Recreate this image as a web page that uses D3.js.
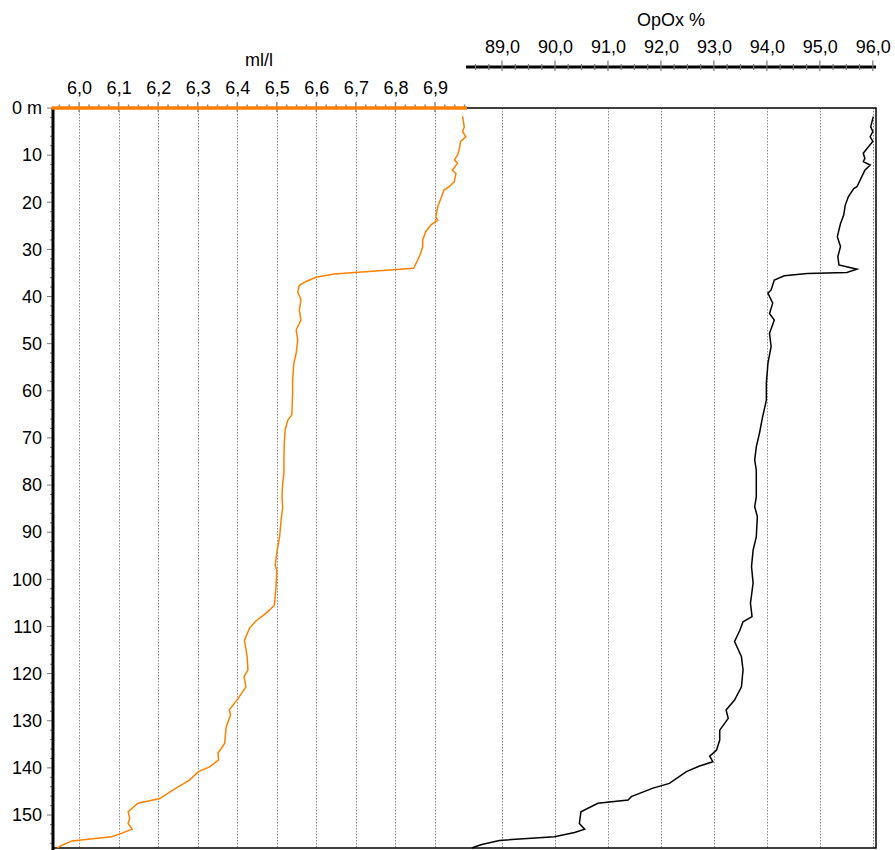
<!DOCTYPE html>
<html>
<head>
<meta charset="utf-8">
<script src="https://cdn.jsdelivr.net/npm/d3@7"></script>
<style>
  body { margin: 0; background: #fff; }
  svg { display: block; font-family: "Liberation Sans", Arial, sans-serif; }
</style>
</head>
<body>
<div id="chart-area"></div>
<script>
// oxygen profile: depth (m) vs ml/l and OpOx %

const o2Depth = [1.8, 4.0, 5.0, 6.1, 7.1, 8.9, 10.0, 11.0, 11.7, 13.2, 13.9, 15.6, 16.7, 17.4, 19.2, 20.9,
  23.1, 23.8, 24.8, 26.2, 28.0, 29.4, 30.8, 32.3, 34.0, 35.2, 35.9, 36.8, 37.6, 39.0, 40.7, 42.9,
  45.0, 47.1, 49.2, 52.0, 54.2, 57.7, 60.5, 65.1, 66.2, 68.3, 71.1, 74.7, 77.5, 79.6, 82.5, 84.6,
  87.4, 91.0, 93.8, 97.0, 98.0, 101.6, 105.5, 106.9, 109.0, 110.4, 112.9, 116.4, 119.2, 120.7,
  122.8, 125.3, 127.7, 128.8, 131.3, 134.8, 136.9, 138.3, 139.8, 140.8, 142.6, 144.7, 146.5,
  147.5, 149.3, 150.7, 151.8, 153.0, 153.9, 154.6, 155.5, 156.3, 157.0]
const o2Values = [6.970, 6.974, 6.970, 6.978, 6.965, 6.961, 6.957, 6.949, 6.957, 6.944, 6.953, 6.949,
  6.936, 6.923, 6.915, 6.907, 6.902, 6.907, 6.890, 6.877, 6.869, 6.869, 6.864, 6.856, 6.846, 6.645,
  6.599, 6.574, 6.557, 6.553, 6.561, 6.557, 6.561, 6.549, 6.553, 6.549, 6.543, 6.540, 6.540, 6.538,
  6.528, 6.521, 6.519, 6.518, 6.518, 6.515, 6.513, 6.515, 6.511, 6.507, 6.501, 6.496, 6.500, 6.498,
  6.494, 6.477, 6.445, 6.431, 6.418, 6.425, 6.427, 6.417, 6.422, 6.402, 6.380, 6.383, 6.372, 6.368,
  6.351, 6.353, 6.330, 6.302, 6.279, 6.237, 6.204, 6.149, 6.124, 6.128, 6.124, 6.134, 6.107, 6.082,
  5.982, 5.960, 5.944]

const opoxDepth = [1.8, 4.0, 5.0, 6.1, 7.1, 8.6, 9.6, 10.7, 11.4, 12.1, 13.2, 14.6, 16.7, 17.1, 18.8,
  20.6, 22.7, 24.5, 27.3, 29.4, 31.5, 33.3, 34.2, 34.9, 35.1, 35.6, 36.5, 38.6, 39.3, 41.4, 43.6,
  45.0, 47.8, 50.6, 54.2, 58.4, 62.0, 65.5, 69.0, 71.9, 74.7, 76.8, 79.6, 82.5, 84.6, 86.7, 91.0,
  93.8, 97.3, 100.8, 105.1, 107.9, 109.0, 110.8, 113.2, 116.4, 119.2, 122.8, 125.6, 127.7, 129.5,
  132.0, 134.1, 136.2, 137.5, 138.7, 139.6, 140.8, 143.3, 144.3, 146.1, 146.8, 147.5, 149.3, 151.8,
  153.0, 153.7, 154.6, 155.4, 156.3, 157.0]
const opoxValues = [96.01, 95.96, 96.00, 95.95, 96.00, 95.89, 95.82, 95.85, 95.82, 95.95, 95.85, 95.79,
  95.70, 95.64, 95.54, 95.48, 95.45, 95.39, 95.33, 95.39, 95.34, 95.36, 95.70, 95.51, 94.76, 94.33,
  94.14, 94.08, 94.02, 94.11, 94.05, 94.14, 94.05, 94.08, 94.02, 93.99, 93.99, 93.92, 93.86, 93.80,
  93.77, 93.80, 93.80, 93.80, 93.77, 93.82, 93.80, 93.74, 93.71, 93.74, 93.69, 93.72, 93.55, 93.49,
  93.39, 93.52, 93.55, 93.52, 93.39, 93.23, 93.27, 93.11, 93.11, 93.05, 92.92, 92.98, 92.73, 92.48,
  92.16, 91.85, 91.44, 91.38, 90.81, 90.49, 90.46, 90.56, 90.37, 89.99, 88.95, 88.60, 88.43]

const depthTicks = [0, 10, 20, 30, 40, 50, 60, 70, 80, 90, 100, 110, 120, 130, 140, 150]
const o2Ticks = [6.0, 6.1, 6.2, 6.3, 6.4, 6.5, 6.6, 6.7, 6.8, 6.9]
const opoxTicks = [89, 90, 91, 92, 93, 94, 95, 96]

const WIDTH = 895
const HEIGHT = 850
const PLOT = {LEFT: 53, RIGHT: 876, TOP: 108, BOTTOM: 848, SPLIT: 467}

const svg = d3.select("#chart-area").append("svg")
  .attr("width", WIDTH)
  .attr("height", HEIGHT)

const y = d3.scaleLinear().domain([0, 157]).range([PLOT.TOP, PLOT.BOTTOM])
const xO2 = d3.scaleLinear().domain([5.934, 6.981]).range([PLOT.LEFT, PLOT.SPLIT])
const xOp = d3.scaleLinear().domain([88.32, 96.06]).range([466, PLOT.RIGHT])

const comma = d3.format(".1f")
const fmt = d => comma(d).replace(".", ",")

// gridlines
const grid = svg.append("g")
  .attr("stroke", "#8c8c8c")
  .attr("stroke-width", 1)
  .attr("stroke-dasharray", "1.5,1.5")

grid.selectAll(".g-o2").data(o2Ticks).enter().append("line")
  .attr("x1", d => Math.round(xO2(d)) + 0.5)
  .attr("x2", d => Math.round(xO2(d)) + 0.5)
  .attr("y1", PLOT.TOP)
  .attr("y2", PLOT.BOTTOM)

grid.selectAll(".g-op").data(opoxTicks).enter().append("line")
  .attr("x1", d => Math.round(xOp(d)) + 0.5)
  .attr("x2", d => Math.round(xOp(d)) + 0.5)
  .attr("y1", PLOT.TOP)
  .attr("y2", PLOT.BOTTOM)

// frame of the OpOx part
svg.append("path")
  .attr("d", `M${PLOT.SPLIT},${PLOT.TOP}H${PLOT.RIGHT}V${PLOT.BOTTOM}H${PLOT.LEFT}`)
  .attr("fill", "none")
  .attr("stroke", "#000")
  .attr("stroke-width", 1.5)

// data lines
const o2Line = d3.line().x(d => xO2(d[1])).y(d => y(d[0]))
const opLine = d3.line().x(d => xOp(d[1])).y(d => y(d[0]))

svg.append("path")
  .datum(d3.zip(opoxDepth, opoxValues))
  .attr("fill", "none")
  .attr("stroke", "#000")
  .attr("stroke-width", 1.5)
  .attr("d", opLine)

svg.append("path")
  .datum(d3.zip(o2Depth, o2Values))
  .attr("fill", "none")
  .attr("stroke", "#ff8000")
  .attr("stroke-width", 1.5)
  .attr("d", o2Line)

// minor tick helper
function ticksBetween(scale, step) {
  const [a, b] = scale.domain()
  const out = []
  for (let v = Math.ceil(a / step) * step; v <= b + 1e-9; v += step) out.push(+v.toFixed(4))
  return out
}

// depth axis
const yAxisGroup = svg.append("g").attr("transform", `translate(${PLOT.LEFT}, 0)`)
yAxisGroup.call(d3.axisLeft(y).tickValues(depthTicks).tickSize(0).tickPadding(11)
  .tickFormat(d => d === 0 ? "0 m" : d))
yAxisGroup.select(".domain").remove()
yAxisGroup.selectAll("text").attr("font-size", "18px").attr("fill", "#000")

yAxisGroup.selectAll(".minor").data(ticksBetween(y, 2)).enter().append("line")
  .attr("x1", d => depthTicks.includes(d) ? -6 : -3)
  .attr("x2", 0)
  .attr("y1", d => y(d))
  .attr("y2", d => y(d))
  .attr("stroke", "#777")
  .attr("stroke-width", 1)

svg.append("line")
  .attr("x1", PLOT.LEFT).attr("x2", PLOT.LEFT)
  .attr("y1", PLOT.TOP).attr("y2", HEIGHT)
  .attr("stroke", "#000")
  .attr("stroke-width", 3)

// ml/l axis (orange)
const o2AxisGroup = svg.append("g").attr("transform", `translate(0, ${PLOT.TOP})`)
svg.append("line")
  .attr("x1", PLOT.LEFT - 1.5).attr("x2", PLOT.SPLIT)
  .attr("y1", PLOT.TOP).attr("y2", PLOT.TOP)
  .attr("stroke", "#ff8000")
  .attr("stroke-width", 3.5)
o2AxisGroup.call(d3.axisTop(xO2).tickValues(o2Ticks).tickSize(0).tickPadding(14).tickFormat(fmt))
o2AxisGroup.select(".domain").remove()
o2AxisGroup.selectAll("text").attr("font-size", "18px").attr("fill", "#000")
o2AxisGroup.selectAll(".minor").data(ticksBetween(xO2, 0.025)).enter().append("line")
  .attr("x1", d => xO2(d)).attr("x2", d => xO2(d))
  .attr("y1", d => o2Ticks.some(t => Math.abs(t - d) < 1e-6) ? -6 : -3.5)
  .attr("y2", d => o2Ticks.some(t => Math.abs(t - d) < 1e-6) ? 4 : 1)
  .attr("stroke", "#888")
  .attr("stroke-width", 1.5)

svg.append("text")
  .attr("x", 259)
  .attr("y", 66)
  .attr("font-size", "18px")
  .attr("text-anchor", "middle")
  .text("ml/l")

// OpOx axis (black)
const AX_Y = 67
const opAxisGroup = svg.append("g").attr("transform", `translate(0, ${AX_Y})`)
opAxisGroup.append("line")
  .attr("x1", 466).attr("x2", PLOT.RIGHT)
  .attr("stroke", "#000")
  .attr("stroke-width", 3)
opAxisGroup.call(d3.axisTop(xOp).tickValues(opoxTicks).tickSize(0).tickPadding(14).tickFormat(fmt))
opAxisGroup.select(".domain").remove()
opAxisGroup.selectAll("text").attr("font-size", "18px").attr("fill", "#000")
opAxisGroup.selectAll(".minor").data(ticksBetween(xOp, 0.25)).enter().append("line")
  .attr("x1", d => xOp(d)).attr("x2", d => xOp(d))
  .attr("y1", d => Number.isInteger(d) ? -6.5 : -3)
  .attr("y2", d => Number.isInteger(d) ? 4 : 3)
  .attr("stroke", "#777")
  .attr("stroke-width", 1.2)

svg.append("text")
  .attr("x", 671)
  .attr("y", 26)
  .attr("font-size", "18px")
  .attr("text-anchor", "middle")
  .text("OpOx %")
</script>
</body>
</html>
